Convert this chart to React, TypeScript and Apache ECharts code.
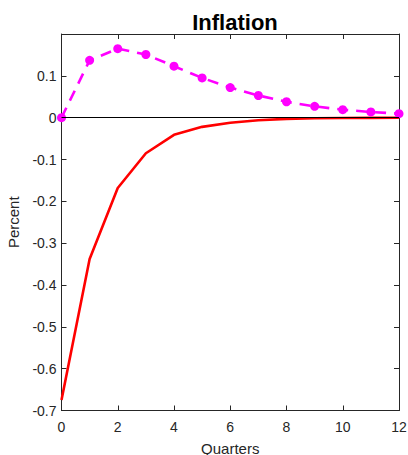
import React, { useEffect, useRef } from "react";
import * as echarts from "echarts";

const quarters = [0, 1, 2, 3, 4, 5, 6, 7, 8, 9, 10, 11, 12];
const dashedSeries = [0, 0.137, 0.165, 0.151, 0.123, 0.095, 0.072, 0.053, 0.038, 0.027, 0.019, 0.0136, 0.0096];
const solidSeries = [-0.675, -0.338, -0.168, -0.085, -0.041, -0.022, -0.012, -0.006, -0.003, -0.0015, -0.0008, -0.0004, -0.0002];

const FONT = "Liberation Sans, Arial, Helvetica, sans-serif";
const AX = "#262626";

export default function App() {
  const ref = useRef<HTMLDivElement>(null);
  useEffect(() => {
    if (!ref.current) return;
    const chart = echarts.init(ref.current, null, { renderer: "svg" });
    const axisCommon = {
      axisLine: { show: true, onZero: false, lineStyle: { color: AX, width: 1 } },
      axisTick: { show: true, inside: true, length: 5, lineStyle: { color: AX } },
      splitLine: { show: false },
    };
    chart.setOption({
      animation: false,
      backgroundColor: "#ffffff",
      title: {
        text: "Inflation",
        left: 230,
        textAlign: "center",
        top: 6,
        textStyle: { fontFamily: FONT, fontSize: 22, fontWeight: "bold", color: "#000" },
      },
      grid: {
        left: 61.5,
        right: 9,
        top: 34,
        bottom: 44.5,
        containLabel: false,
        outerBoundsMode: "none",
      },
      xAxis: [
        {
          type: "value",
          min: 0,
          max: 12,
          interval: 2,
          name: "Quarters",
          nameLocation: "middle",
          nameGap: 30,
          nameTextStyle: { fontFamily: FONT, fontSize: 15, color: AX },
          axisLabel: { fontFamily: FONT, fontSize: 14, color: AX, margin: 9 },
          ...axisCommon,
        },
        {
          type: "value",
          position: "top",
          min: 0,
          max: 12,
          interval: 2,
          axisLabel: { show: false },
          ...axisCommon,
        },
      ],
      yAxis: [
        {
          type: "value",
          min: -0.7,
          max: 0.2,
          interval: 0.1,
          name: "Percent",
          nameLocation: "middle",
          nameGap: 41,
          nameTextStyle: { fontFamily: FONT, fontSize: 15, color: AX },
          axisLabel: {
            fontFamily: FONT,
            fontSize: 14,
            color: AX,
            margin: 5,
            formatter: (v: number) => {
              if (v > 0.15) return "";
              const r = Math.round(v * 10) / 10;
              return r === 0 ? "0" : String(r);
            },
          },
          ...axisCommon,
        },
        {
          type: "value",
          position: "right",
          min: -0.7,
          max: 0.2,
          interval: 0.1,
          axisLabel: { show: false },
          ...axisCommon,
        },
      ],
      series: [
        {
          type: "line",
          data: quarters.map((q, i) => [q, solidSeries[i]]),
          showSymbol: false,
          symbol: "none",
          lineStyle: { color: "#ff0000", width: 2.6 },
          itemStyle: { color: "#ff0000" },
          z: 3,
          markLine: {
            silent: true,
            symbol: "none",
            label: { show: false },
            lineStyle: { color: "#000000", width: 1, type: "solid" },
            data: [{ yAxis: 0 }],
          },
        },
        {
          type: "line",
          data: quarters.map((q, i) => [q, dashedSeries[i]]),
          symbol: "circle",
          symbolSize: 9,
          lineStyle: { color: "#ff00ff", width: 2.6, type: [11, 8] },
          itemStyle: { color: "#ff00ff" },
          z: 4,
        },
      ],
    });
    return () => chart.dispose();
  }, []);
  return <div ref={ref} style={{ width: 408, height: 455, position: "absolute", left: 0, top: 0 }} />;
}
